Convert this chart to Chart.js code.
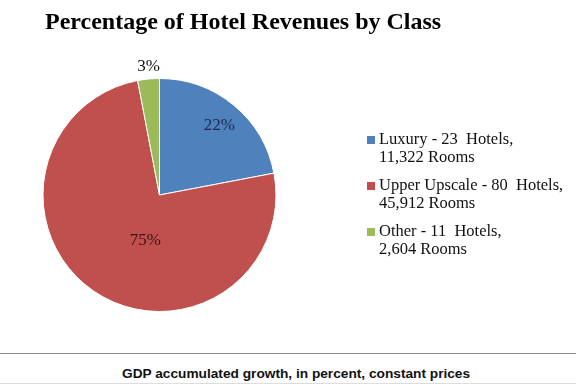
<!DOCTYPE html>
<html>
<head>
<meta charset="utf-8">
<script src="https://cdn.jsdelivr.net/npm/chart.js@4.4.1/dist/chart.umd.min.js"></script>
<style>
  body { margin: 0; background: #fff; width: 576px; height: 387px; overflow: hidden; }
  #wrap { position: relative; width: 576px; height: 353px; }
  #footer {
    border-top: 1px solid #888;
    border-bottom: 1px solid #ddd;
    height: 31px;
    box-sizing: border-box;
    padding-top: 12px;
    line-height: 16px;
    font: bold 13.7px 'Liberation Sans', Arial, sans-serif;
    color: #111;
    padding-left: 122px;
  }
</style>
</head>
<body>
<div id="wrap"><canvas id="hotel" width="576" height="353"></canvas></div>
<div id="footer">GDP accumulated growth, in percent, constant prices</div>
<script>
let hotel = document.getElementById('hotel').getContext('2d');

const chartTitle = 'Percentage of Hotel Revenues by Class';
const classes = ['Luxury', 'Upper Upscale', 'Other'];
const legendLines = [
    ['Luxury - 23  Hotels,', '11,322 Rooms'],
    ['Upper Upscale - 80  Hotels,', '45,912 Rooms'],
    ['Other - 11  Hotels,', '2,604 Rooms']
];
const shares = [22, 75, 3];
const sliceColors = ['#4F81BD', '#C0504D', '#9BBB59'];

// where the % labels sit, as fraction of radius and angle nudge (deg)
const labelRadius = [0.79, 0.41, 1.11];
const labelShift = [1, -17, 0.6];
const labelColors = ['#1c2a52', '#3b1515', '#111'];

const serif = "'Liberation Serif', 'Times New Roman', serif";

const textPlugin = {
    id: 'hotelText',
    afterDraw(chart) {
        const ctx = chart.ctx;
        ctx.save();
        // title (squeezed a bit, the original face is narrower)
        ctx.fillStyle = '#000';
        ctx.font = 'bold 24px ' + serif;
        ctx.textAlign = 'left';
        ctx.textBaseline = 'middle';
        ctx.fillText(chartTitle, 45, 23, 400);

        // slice labels
        const meta = chart.getDatasetMeta(0);
        ctx.font = '17px ' + serif;
        ctx.textAlign = 'center';
        meta.data.forEach((arc, i) => {
            const mid = (arc.startAngle + arc.endAngle) / 2 + labelShift[i] * Math.PI / 180;
            const r = arc.outerRadius * labelRadius[i];
            ctx.fillStyle = labelColors[i];
            ctx.fillText(shares[i] + '%', arc.x + Math.cos(mid) * r, arc.y + Math.sin(mid) * r);
        });

        // legend
        ctx.font = '16.5px ' + serif;
        ctx.textAlign = 'left';
        let y = 140;
        legendLines.forEach((lines, i) => {
            ctx.fillStyle = sliceColors[i];
            ctx.fillRect(367, y - 4, 8, 8);
            ctx.fillStyle = '#111';
            lines.forEach((t, j) => ctx.fillText(t, 379, y + j * 18));
            y += 46;
        });
        ctx.restore();
    }
};

let hotelChart = new Chart(hotel, {
    type: 'pie',
    data: {
        labels: classes,
        datasets: [{
            data: shares,
            backgroundColor: sliceColors,
            borderColor: '#fff',
            borderWidth: 1
        }]
    },
    options: {
        responsive: false,
        animation: false,
        layout: {
            padding: { left: 42, right: 299, top: 78, bottom: 41 }
        },
        plugins: {
            legend: { display: false },
            tooltip: { enabled: false },
            title: { display: false }
        }
    },
    plugins: [textPlugin]
});
</script>
</body>
</html>
